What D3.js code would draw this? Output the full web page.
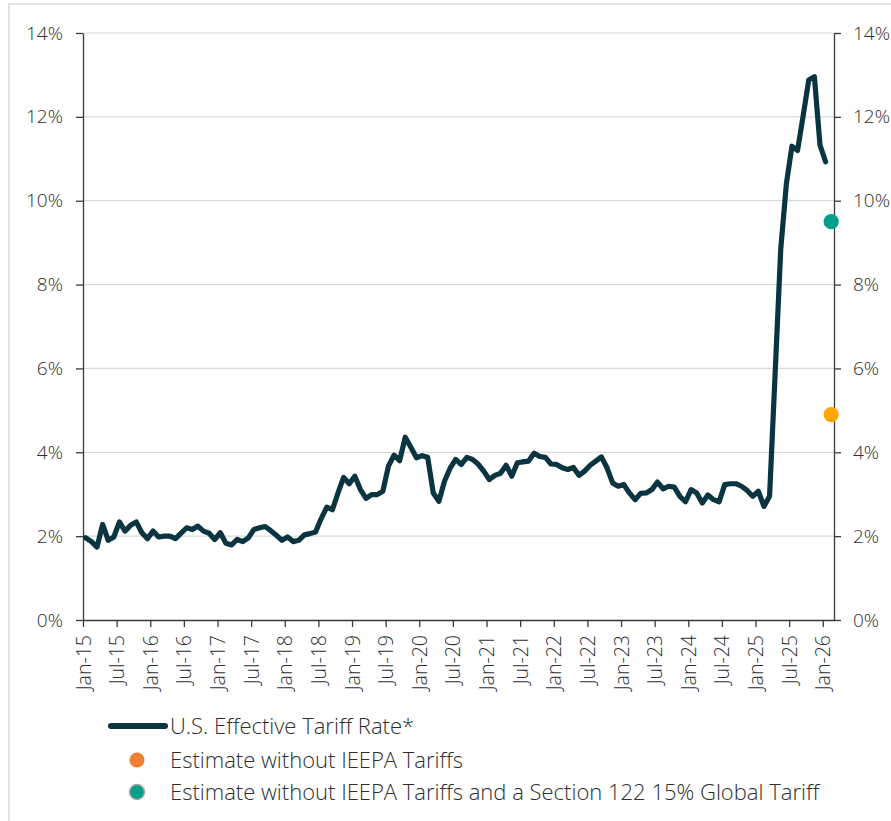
<!DOCTYPE html>
<html>
<head>
<meta charset="utf-8">
<script src="https://cdn.jsdelivr.net/npm/d3@7"></script>
<style>
  html, body { margin: 0; padding: 0; background: #fff; }
  svg { display: block; font-family: "Open Sans", Lato, sans-serif; font-weight: 300; }
</style>
</head>
<body>
<svg id="chart" width="891" height="821"></svg>
<script>
// Monthly U.S. effective tariff rate, Jan 2015 through Jan 2026 (percent)
const tariffRate = [
  1.96, 1.87, 1.74, 2.28, 1.90, 1.98, 2.34, 2.12, 2.26, 2.34,
  2.08, 1.94, 2.12, 1.98, 2.00, 2.00, 1.94, 2.07, 2.20, 2.16,
  2.24, 2.12, 2.07, 1.92, 2.08, 1.83, 1.79, 1.92, 1.87, 1.96,
  2.16, 2.20, 2.23, 2.13, 2.02, 1.90, 1.98, 1.87, 1.90, 2.03,
  2.06, 2.10, 2.42, 2.69, 2.63, 3.03, 3.40, 3.25, 3.43, 3.11,
  2.90, 2.99, 2.99, 3.07, 3.67, 3.93, 3.80, 4.36, 4.12, 3.87,
  3.92, 3.88, 3.03, 2.83, 3.31, 3.62, 3.83, 3.71, 3.88, 3.83,
  3.72, 3.55, 3.35, 3.45, 3.50, 3.69, 3.43, 3.75, 3.77, 3.79,
  3.98, 3.90, 3.88, 3.72, 3.71, 3.63, 3.59, 3.64, 3.45, 3.55,
  3.69, 3.79, 3.89, 3.63, 3.27, 3.19, 3.23, 3.03, 2.87, 3.02,
  3.03, 3.11, 3.29, 3.13, 3.19, 3.17, 2.95, 2.82, 3.11, 3.03,
  2.79, 2.98, 2.87, 2.82, 3.23, 3.25, 3.25, 3.19, 3.09, 2.95,
  3.07, 2.71, 2.95, 5.89, 8.85, 10.40, 11.30, 11.20, 12.03, 12.88,
  12.96, 11.33, 10.93
];

// Point estimates for Feb 2026
const estimateLabels = [
  "Estimate without IEEPA Tariffs",
  "Estimate without IEEPA Tariffs and a Section 122 15% Global Tariff"
];
const estimateMonth = "Feb-26";
const estimateValues = [4.9, 9.5];

const seriesLabel = "U.S. Effective Tariff Rate*";

// Category axis: every month from Jan-15 to Feb-26
const months = d3.timeMonth.range(new Date(2015, 0, 1), new Date(2026, 2, 1));
const fmtMonth = d3.timeFormat("%b-%y");
const categories = months.map(fmtMonth);

const xTickLabels = [
  "Jan-15", "Jul-15", "Jan-16", "Jul-16", "Jan-17", "Jul-17", "Jan-18", "Jul-18",
  "Jan-19", "Jul-19", "Jan-20", "Jul-20", "Jan-21", "Jul-21", "Jan-22", "Jul-22",
  "Jan-23", "Jul-23", "Jan-24", "Jul-24", "Jan-25", "Jul-25", "Jan-26"
];
const yTicks = [0, 2, 4, 6, 8, 10, 12, 14];

const LINE = "#0a3540";
const AXIS = "#3a3a3a";
const GRID = "#d9d9d9";
const TEXT = "#2e2e2e";
const FONT = "'Open Sans', Lato, sans-serif";
const estimateColors = ["#ffa500", "#00a08a"];
const estimateLegendColors = ["#ee7f33", "#00a08a"];

const svg = d3.select("#chart");

// outer frame
svg.append("rect")
  .attr("x", 9).attr("y", 4).attr("width", 900).attr("height", 840)
  .attr("fill", "none").attr("stroke", "#d9d9d9").attr("stroke-width", 1.5);

const plotLeft = 83, plotRight = 834, plotTop = 33, plotBottom = 620;

// index-based x scale: category i occupies [i, i+1], ticks sit on boundaries
const x = d3.scaleLinear().domain([0, categories.length]).range([plotLeft, plotRight]);
const y = d3.scaleLinear().domain([0, 14]).range([plotBottom, plotTop]);
const cx = label => x(categories.indexOf(label) + 0.5);

// gridlines
svg.append("g")
  .selectAll("line")
  .data(yTicks.filter(d => d > 0))
  .join("line")
  .attr("x1", plotLeft).attr("x2", plotRight)
  .attr("y1", d => y(d)).attr("y2", d => y(d))
  .attr("stroke", GRID).attr("stroke-width", 1.2);

const pct = d => d + "%";

// left axis
const gLeft = svg.append("g").attr("transform", `translate(${plotLeft},0)`)
  .call(d3.axisLeft(y).tickValues(yTicks).tickFormat(pct).tickSize(7).tickPadding(13).tickSizeOuter(0));
// right axis
const gRight = svg.append("g").attr("transform", `translate(${plotRight},0)`)
  .call(d3.axisRight(y).tickValues(yTicks).tickFormat(pct).tickSize(7).tickPadding(12).tickSizeOuter(0));

// bottom axis
const gBottom = svg.append("g").attr("transform", `translate(0,${plotBottom})`)
  .call(d3.axisBottom(x)
    .tickValues(xTickLabels.map(l => categories.indexOf(l)))
    .tickFormat(i => categories[i])
    .tickSize(7).tickSizeOuter(0));

[gLeft, gRight, gBottom].forEach(g => {
  g.select(".domain").attr("stroke", AXIS).attr("stroke-width", 1.3);
  g.selectAll(".tick line").attr("stroke", AXIS).attr("stroke-width", 1.3);
  g.selectAll(".tick text")
    .attr("fill", TEXT)
    .style("font-family", FONT)
    .style("font-weight", 300)
    .style("font-size", "19px");
});

gBottom.selectAll(".tick text")
  .attr("transform", "rotate(-90)")
  .attr("text-anchor", "end")
  .attr("x", -15).attr("y", 0).attr("dy", "0.36em")
  .style("font-size", "19.5px");

// tariff rate line
const line = d3.line()
  .x((d, i) => x(i + 0.5))
  .y(d => y(d))
  .curve(d3.curveLinear);

svg.append("path")
  .datum(tariffRate)
  .attr("d", line)
  .attr("fill", "none")
  .attr("stroke", LINE)
  .attr("stroke-width", 5.2)
  .attr("stroke-linejoin", "round")
  .attr("stroke-linecap", "round");

// estimate markers
svg.append("g")
  .selectAll("circle")
  .data(estimateValues)
  .join("circle")
  .attr("cx", cx(estimateMonth))
  .attr("cy", d => y(d))
  .attr("r", 7.6)
  .attr("fill", (d, i) => estimateColors[i]);

// legend
const lg = svg.append("g");
const rows = [726, 760, 792];
lg.append("line")
  .attr("x1", 111).attr("x2", 165).attr("y1", rows[0]).attr("y2", rows[0])
  .attr("stroke", LINE).attr("stroke-width", 6).attr("stroke-linecap", "round");
lg.selectAll("circle")
  .data(estimateLabels)
  .join("circle")
  .attr("cx", 137)
  .attr("cy", (d, i) => rows[i + 1])
  .attr("r", 7.5)
  .attr("fill", (d, i) => estimateLegendColors[i])
  .attr("stroke", (d, i) => i === 1 ? "#a6a6a6" : "none")
  .attr("stroke-width", 1.5);
lg.selectAll("text")
  .data([seriesLabel, ...estimateLabels])
  .join("text")
  .attr("x", 170)
  .attr("y", (d, i) => rows[i])
  .attr("dy", "0.36em")
  .attr("fill", TEXT)
  .style("font-family", FONT)
  .style("font-size", "22px")
  .style("font-weight", 300)
  .text(d => d);
</script>
</body>
</html>
